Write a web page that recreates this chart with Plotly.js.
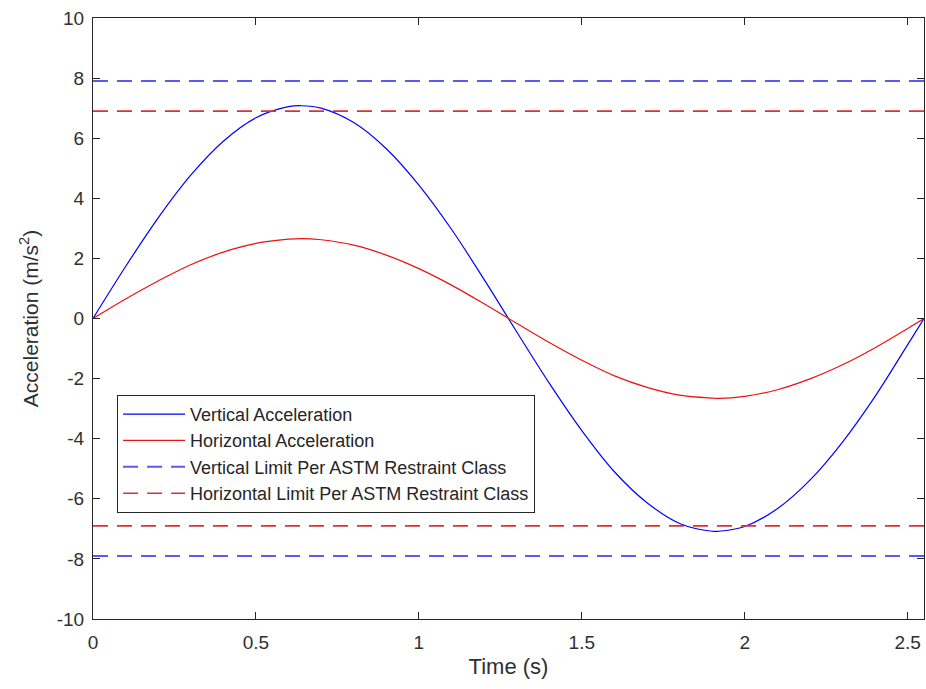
<!DOCTYPE html>
<html>
<head>
<meta charset="utf-8">
<script src="https://cdn.plot.ly/plotly-3.0.1.min.js"></script>
<style>html,body{margin:0;padding:0;background:#fff;}#chart{width:926px;height:689px;}</style>
</head>
<body>
<div id="chart"></div>
<script>
// Time samples (s)
const time = [0, 0.1, 0.2, 0.3, 0.4, 0.5, 0.6, 0.64, 0.7, 0.8, 0.9, 1.0, 1.1, 1.2, 1.3, 1.4, 1.5, 1.6, 1.7, 1.8, 1.9, 1.92, 2.0, 2.1, 2.2, 2.3, 2.4, 2.5, 2.55];
// Vertical acceleration (m/s^2)
const verticalAccel = [0, 1.73, 3.35, 4.77, 5.90, 6.68, 7.05, 7.08, 7.00, 6.52, 5.65, 4.44, 2.97, 1.30, -0.44, -2.15, -3.73, -5.10, -6.13, -6.82, -7.08, -7.08, -6.92, -6.33, -5.38, -4.11, -2.59, -0.87, 0];
// Horizontal acceleration (m/s^2)
const horizontalAccel = [0, 0.65, 1.25, 1.79, 2.21, 2.50, 2.64, 2.66, 2.62, 2.44, 2.11, 1.66, 1.11, 0.49, -0.16, -0.80, -1.39, -1.91, -2.29, -2.55, -2.65, -2.66, -2.59, -2.37, -2.01, -1.54, -0.97, -0.33, 0];
// Limits per ASTM restraint class (m/s^2)
const verticalLimit = 7.9;
const horizontalLimit = 6.9;
const timeRange = [0, 2.55];
const xTicks = [0, 0.5, 1, 1.5, 2, 2.5];
const yTicks = [-10, -8, -6, -4, -2, 0, 2, 4, 6, 8, 10];
const legendNames = ['Vertical Acceleration', 'Horizontal Acceleration', 'Vertical Limit Per ASTM Restraint Class', 'Horizontal Limit Per ASTM Restraint Class'];

const blue = '#0000ff', red = '#ee1111';
const dashBlue = '#5a5af0', dashRed = '#e03030';

const traces = [
  {x: time, y: verticalAccel, mode: 'lines', name: legendNames[0], line: {color: blue, width: 1.2, shape: 'spline'}},
  {x: time, y: horizontalAccel, mode: 'lines', name: legendNames[1], line: {color: red, width: 1.2, shape: 'spline'}},
  {x: timeRange, y: [verticalLimit, verticalLimit], mode: 'lines', name: legendNames[2], line: {color: dashBlue, width: 2, dash: '15px,9px'}},
  {x: timeRange, y: [horizontalLimit, horizontalLimit], mode: 'lines', name: legendNames[3], line: {color: dashRed, width: 1.6, dash: '15px,9px'}},
  {x: timeRange, y: [-verticalLimit, -verticalLimit], mode: 'lines', showlegend: false, line: {color: dashBlue, width: 2, dash: '15px,9px'}, hoverinfo: 'skip'},
  {x: timeRange, y: [-horizontalLimit, -horizontalLimit], mode: 'lines', showlegend: false, line: {color: dashRed, width: 1.6, dash: '15px,9px'}, hoverinfo: 'skip'}
];

const axisCommon = {
  showgrid: false, zeroline: false, showline: true, mirror: 'ticks',
  linecolor: '#262626', linewidth: 1, ticks: 'inside', ticklen: 7, tickcolor: '#262626',
  tickfont: {family: 'Liberation Sans, Arial, sans-serif', size: 19, color: '#303030'}
};

const layout = {
  width: 926, height: 689,
  margin: {l: 93, r: 2, t: 18, b: 70},
  paper_bgcolor: '#ffffff', plot_bgcolor: '#ffffff',
  font: {family: 'Liberation Sans, Arial, sans-serif', color: '#303030'},
  showlegend: true,
  xaxis: Object.assign({}, axisCommon, {
    range: timeRange, tickvals: xTicks, ticktext: xTicks.map(String),
    ticklabelstandoff: 6,
    title: {text: 'Time (s)', font: {size: 22, color: '#303030'}, standoff: 6}
  }),
  yaxis: Object.assign({}, axisCommon, {
    range: [-10, 10], tickvals: yTicks, ticktext: yTicks.map(String),
    ticklabelstandoff: 4,
    title: {text: 'Acceleration (m/s<sup>2</sup>)', font: {size: 21, color: '#303030'}, standoff: 12}
  }),
  legend: {
    x: 0.029, y: 0.373, xanchor: 'left', yanchor: 'top',
    bgcolor: '#ffffff', bordercolor: '#262626', borderwidth: 1,
    font: {family: 'Liberation Sans, Arial, sans-serif', size: 18, color: '#262626'},
    itemwidth: 62,
    tracegroupgap: 0
  }
};

Plotly.newPlot('chart', traces, layout, {displayModeBar: false, staticPlot: true});
</script>
</body>
</html>
